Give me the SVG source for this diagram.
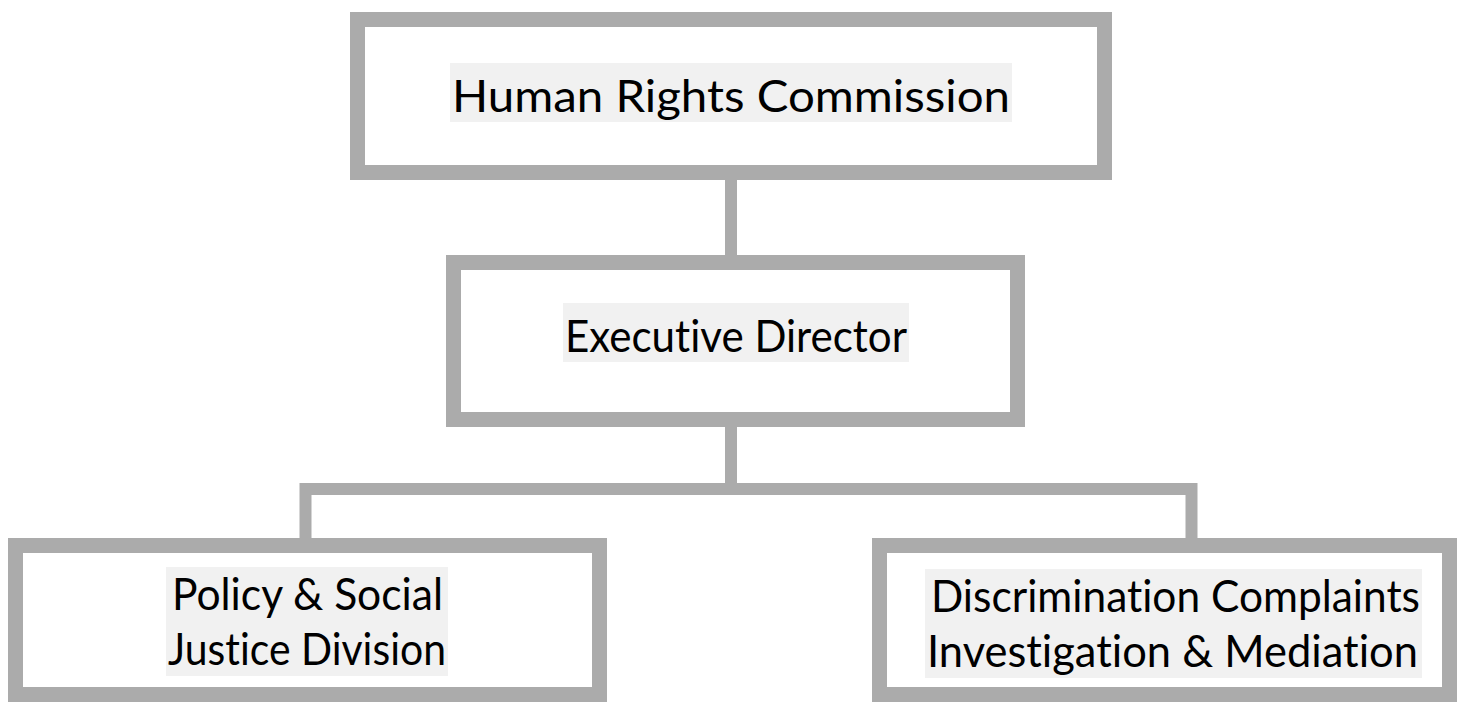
<svg xmlns="http://www.w3.org/2000/svg" width="1457" height="702" viewBox="0 0 1457 702">
<style>
.box{fill:#ffffff;stroke:#ababab;stroke-width:15}
.conn{fill:none;stroke:#ababab;stroke-width:12;stroke-linejoin:miter;stroke-linecap:butt}
.hl{fill:#f1f1f1}
.t{font-family:Lato,"Open Sans",sans-serif;font-size:45px;fill:#000000;text-anchor:middle;font-variant-ligatures:none;font-feature-settings:"liga" 0,"clig" 0}
</style>
<rect width="1457" height="702" fill="#ffffff"/>
<g id="connectors">
<path class="conn" d="M731 180 V255"/>
<path class="conn" d="M731 427 V489"/>
<path class="conn" d="M305.5 538 V489 H1191.5 V538"/>
</g>
<g id="node-commission">
<rect class="box" x="357.5" y="19.5" width="747" height="153"/>
<rect class="hl" x="450" y="63" width="562" height="59"/>
<text class="t" x="731" y="112" textLength="558" lengthAdjust="spacingAndGlyphs">Human Rights Commission</text>
</g>
<g id="node-director">
<rect class="box" x="453.5" y="262.5" width="564" height="157"/>
<rect class="hl" x="563" y="303" width="346" height="59"/>
<text class="t" x="736" y="352" textLength="342" lengthAdjust="spacingAndGlyphs">Executive Director</text>
</g>
<g id="node-policy">
<rect class="box" x="15.5" y="545.5" width="584" height="149"/>
<rect class="hl" x="166" y="567" width="282" height="109"/>
<text class="t" x="307.5" y="610" textLength="271" lengthAdjust="spacingAndGlyphs">Policy &amp; Social</text>
<text class="t" x="307" y="665" textLength="278" lengthAdjust="spacingAndGlyphs">Justice Division</text>
</g>
<g id="node-discrimination">
<rect class="box" x="879.5" y="545.5" width="570" height="149"/>
<rect class="hl" x="925" y="569" width="497" height="109"/>
<text class="t" x="1175.5" y="612" textLength="489" lengthAdjust="spacingAndGlyphs">Discrimination Complaints</text>
<text class="t" x="1172.5" y="667" textLength="491" lengthAdjust="spacingAndGlyphs">Investigation &amp; Mediation</text>
</g>
</svg>
